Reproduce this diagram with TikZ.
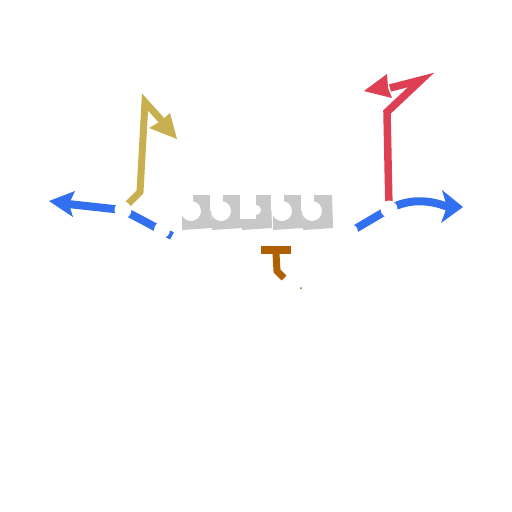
\documentclass[tikz,border=0pt]{standalone}
\begin{document}
\begin{tikzpicture}[x=1pt,y=-1pt,line join=miter]
\definecolor{cblue}{RGB}{50,112,240}
\definecolor{cgold}{RGB}{200,176,80}
\definecolor{cred}{RGB}{220,64,82}
\definecolor{cgray}{RGB}{200,200,200}
\definecolor{corange}{RGB}{176,96,0}
\tikzset{
  bluel/.style={draw=cblue,line width=8},
  goldl/.style={draw=cgold,line width=7},
  redl/.style={draw=cred,line width=7.5},
  hole/.style={fill=white,draw=none},
  grayblk/.style={fill=cgray,draw=none}
}
\useasboundingbox (0,0) rectangle (512,512);
\fill[white] (0,0) rectangle (512,512);
% coordinates
\coordinate (nL) at (123,210);
\coordinate (nL2) at (162,230);
\coordinate (nR2) at (350,232);
\coordinate (nR) at (389,209);
% blue left arrow
\draw[bluel] (nL) -- (68,204);
\fill[cblue] (49,201) -- (75,191) -- (69,204) -- (73,217) -- cycle;
% blue lower left
\draw[bluel] (nL) -- (172,236);
% blue lower right
\draw[bluel] (nR2) -- (nR);
% blue right arrow
\draw[bluel] (nR) .. controls (410,198) and (430,200) .. (448,207);
\fill[cblue] (463,207) -- (442,190) -- (447,207) -- (441,223) -- cycle;
% gold
\draw[goldl] (128,204) -- (140,192) -- (145,102) -- (163,122);
\fill[cgold] (177,139) -- (170,113) -- (161,121) -- (149,128) -- cycle;
% red
\draw[redl] (nR) -- (387,112) -- (421,80) -- (390,88);
\fill[cred] (364,91) -- (387,74) -- (388,88) -- (392,98) -- cycle;
% white node holes
\fill[hole] (nL) circle (8.5);
\fill[hole] (nL2) circle (8);
\fill[hole] (nR2) circle (8);
\fill[hole] (nR) circle (8.5);
% gray blocks
\foreach \x/\k in {182/1,212/1,242/0,273/1,303/1}{
  \fill[grayblk] (\x,195) -- (\x+29,195) -- (\x+30,228) -- (\x,230) -- cycle;
  \ifnum\k=1
    \fill[hole] (\x-2,193) rectangle (\x+11,211);
    \fill[hole] (\x+9,211) circle (10);
  \else
    \fill[hole] (\x-2,193) rectangle (\x+14,219);
    \fill[hole] (\x+14,210) circle (5);
  \fi
}
% orange T
\fill[corange] (261,246) rectangle (291,254);
\draw[corange,line width=7] (276,253) -- (277,271) -- (284,278);
\fill[corange] (301,288) circle (1);
\end{tikzpicture}
\end{document}
